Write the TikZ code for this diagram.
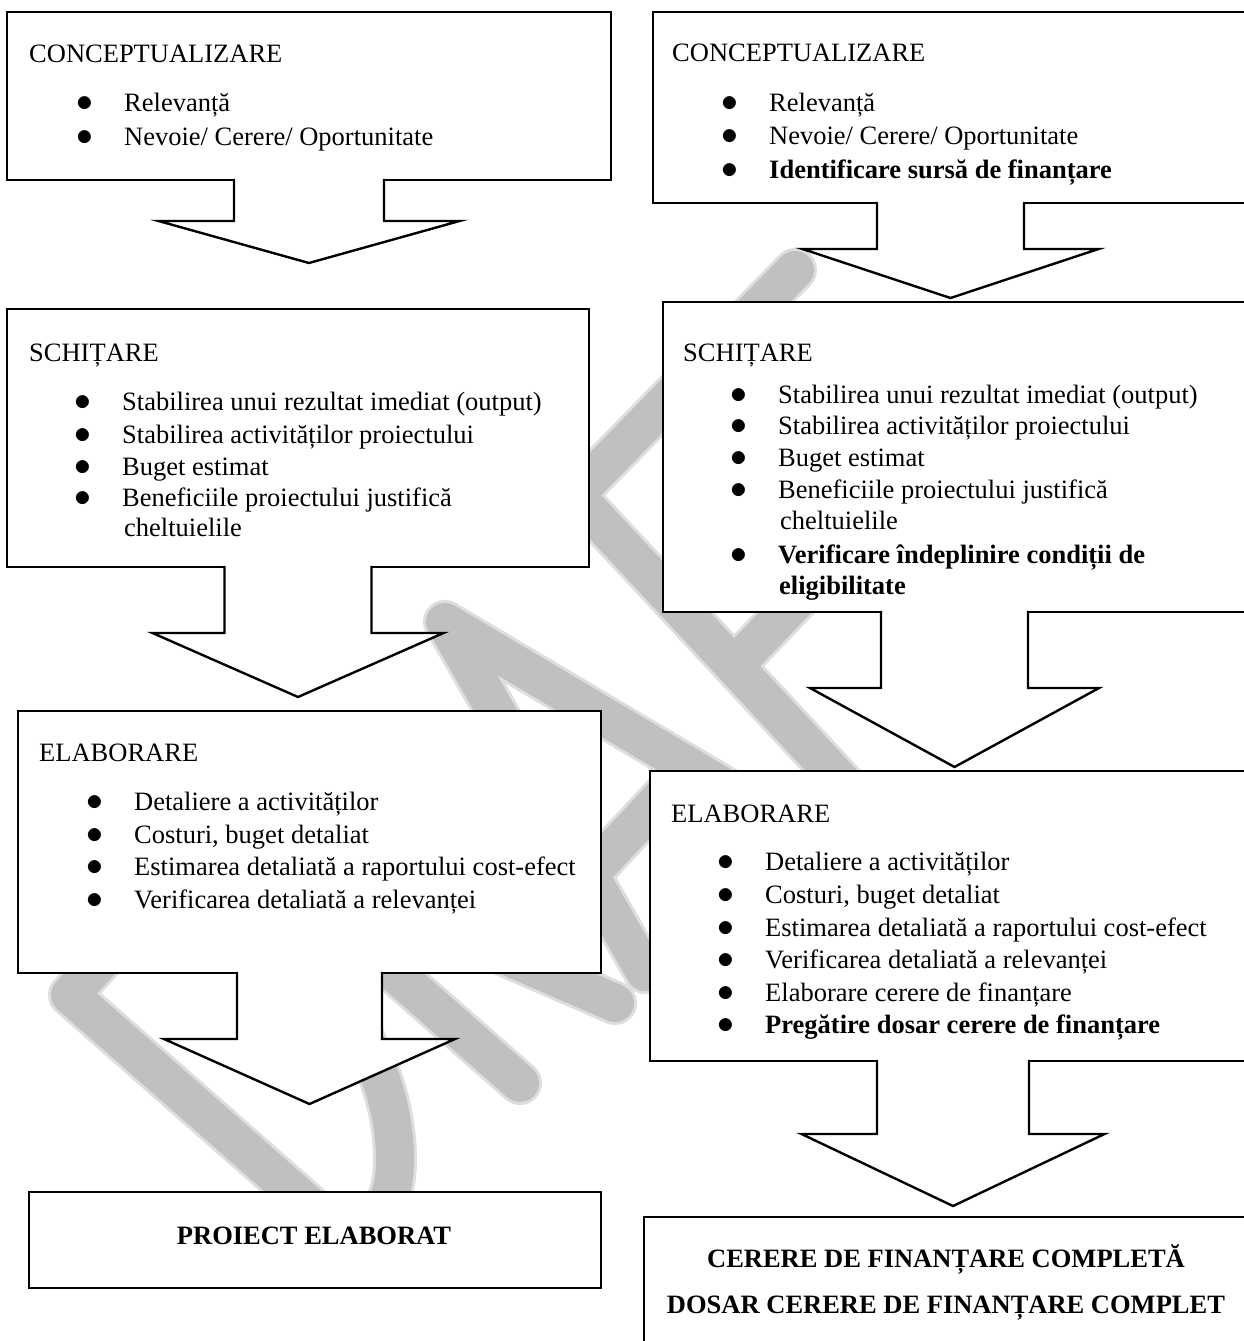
\documentclass[tikz,border=0pt]{standalone}
\usepackage{fontspec}
\setmainfont{Liberation Serif}
\definecolor{wmgray}{RGB}{192,192,192}
\definecolor{wmlight}{RGB}{222,222,222}
\newcommand{\bul}{\llap{\scalebox{1.35}{$\bullet$}\hspace{31pt}}}
\newcommand{\blockarrow}[5]{%
	\filldraw[arrowbox] ([xshift=-#2pt,yshift=1.2pt]#1.south) -- ++(0,#3+1.2) -- ++(#2-#4,0)
		-- ++(#4,#5) -- ++(#4,-#5) -- ++(#2-#4,0) -- ++(0,-#3-1.2);}
\newcommand{\draftmark}[1]{%
	\draw[#1] (335,1228) -- (70,995) -- (185,868) .. controls (300,930) and (395,1040) .. (395,1160) .. controls (395,1210) and (370,1240) .. (335,1228);
	\draw[#1] (300,890) -- (520,1083);
	\draw[#1] (470,940) -- (615,1003);
	\draw[#1] (645,972) -- (445,622) -- (806,836);
	\draw[#1] (590,874) -- (690,767);
	\draw[#1] (795,270) -- (575,495) -- (867,809);
	\draw[#1] (735,665) -- (840,555);}
\begin{document}
\begin{tikzpicture}[x=1pt, y=-1pt,
		font=\fontsize{26.5}{32.5}\selectfont,
		stagebox/.style={draw, line width=2.4pt, fill=white, inner sep=0pt, outer sep=0pt},
		txt/.style={anchor=base west, inner sep=0pt},
		endtxt/.style={anchor=base, inner sep=0pt, font=\fontsize{26.5}{32.5}\selectfont\bfseries},
		arrowbox/.style={draw, fill=white, line width=2.4pt},
		wm/.style={draw=wmgray, line width=38pt, line cap=round, line join=round},
		wmrim/.style={draw=wmlight, line width=44pt, line cap=round, line join=round}]
		\useasboundingbox (0,0) rectangle (1244,1341);
		\fill[white] (0,0) rectangle (1244,1341);
		\draftmark{wmrim}
		\draftmark{wm}

		\node[stagebox, minimum width=604pt, minimum height=168pt] at (309,96) (lc) {};
		\node[txt] at (29,62) (lct) {CONCEPTUALIZARE};
		\node[txt] at (124,111) (lc1) {\bul Relevanță};
		\node[txt] at (124,145) (lc2) {\bul Nevoie/ Cerere/ Oportunitate};

		\node[stagebox, minimum width=582pt, minimum height=258pt] at (298,438) (ls) {};
		\node[txt] at (29,361) (lst) {SCHIȚARE};
		\node[txt] at (122,410) (ls1) {\bul Stabilirea unui rezultat imediat (output)};
		\node[txt] at (122,443) (ls2) {\bul Stabilirea activităților proiectului};
		\node[txt] at (122,475) (ls3) {\bul Buget estimat};
		\node[txt] at (122,506) (ls4) {\bul Beneficiile proiectului justifică};
		\node[txt] at (124,536) (ls5) {cheltuielile};

		\node[stagebox, minimum width=583pt, minimum height=262pt] at (309.5,842) (le) {};
		\node[txt] at (39,761) (let) {ELABORARE};
		\node[txt] at (134,810) (le1) {\bul Detaliere a activităților};
		\node[txt] at (134,843) (le2) {\bul Costuri, buget detaliat};
		\node[txt] at (134,875) (le3) {\bul Estimarea detaliată a raportului cost-efect};
		\node[txt] at (134,908) (le4) {\bul Verificarea detaliată a relevanței};

		\node[stagebox, minimum width=572pt, minimum height=96pt] at (315,1240) (lp) {};
		\node[endtxt] at (314,1244) (lpt) {PROIECT ELABORAT};

		\node[stagebox, minimum width=595pt, minimum height=191pt] at (950.5,107.5) (rc) {};
		\node[txt] at (672,61) (rct) {CONCEPTUALIZARE};
		\node[txt] at (769,111) (rc1) {\bul Relevanță};
		\node[txt] at (769,144) (rc2) {\bul Nevoie/ Cerere/ Oportunitate};
		\node[txt] at (769,178) (rc3) {\bul \textbf{Identificare sursă de finanțare}};

		\node[stagebox, minimum width=583pt, minimum height=310pt] at (954.5,457) (rs) {};
		\node[txt] at (683,361) (rst) {SCHIȚARE};
		\node[txt] at (778,403) (rs1) {\bul Stabilirea unui rezultat imediat (output)};
		\node[txt] at (778,434) (rs2) {\bul Stabilirea activităților proiectului};
		\node[txt] at (778,466) (rs3) {\bul Buget estimat};
		\node[txt] at (778,498) (rs4) {\bul Beneficiile proiectului justifică};
		\node[txt] at (780,529) (rs5) {cheltuielile};
		\node[txt] at (778,563) (rs6) {\bul \textbf{Verificare îndeplinire condiții de}};
		\node[txt] at (779,594) (rs7) {\textbf{eligibilitate}};

		\node[stagebox, minimum width=606pt, minimum height=290pt] at (953,916) (re) {};
		\node[txt] at (671,822) (ret) {ELABORARE};
		\node[txt] at (765,870) (re1) {\bul Detaliere a activităților};
		\node[txt] at (765,903) (re2) {\bul Costuri, buget detaliat};
		\node[txt] at (765,936) (re3) {\bul Estimarea detaliată a raportului cost-efect};
		\node[txt] at (765,968) (re4) {\bul Verificarea detaliată a relevanței};
		\node[txt] at (765,1001) (re5) {\bul Elaborare cerere de finanțare};
		\node[txt] at (765,1033) (re6) {\bul \textbf{Pregătire dosar cerere de finanțare}};

		\node[stagebox, minimum width=606pt, minimum height=143pt] at (947,1288.5) (rp) {};
		\node[endtxt] at (946,1267) (rp1) {CERERE DE FINANȚARE COMPLETĂ};
		\node[endtxt] at (946,1313) (rp2) {DOSAR CERERE DE FINANȚARE COMPLET};

		\blockarrow{lc}{75}{41}{150.5}{42}
		\blockarrow{ls}{73.5}{66}{145.5}{64}
		\blockarrow{le}{72.5}{66}{145.5}{65}
		\blockarrow{rc}{73.5}{46}{148}{49}
		\blockarrow{rs}{73.5}{76}{144.5}{79}
		\blockarrow{re}{76}{73}{151.5}{72}
	\end{tikzpicture}
\end{document}
